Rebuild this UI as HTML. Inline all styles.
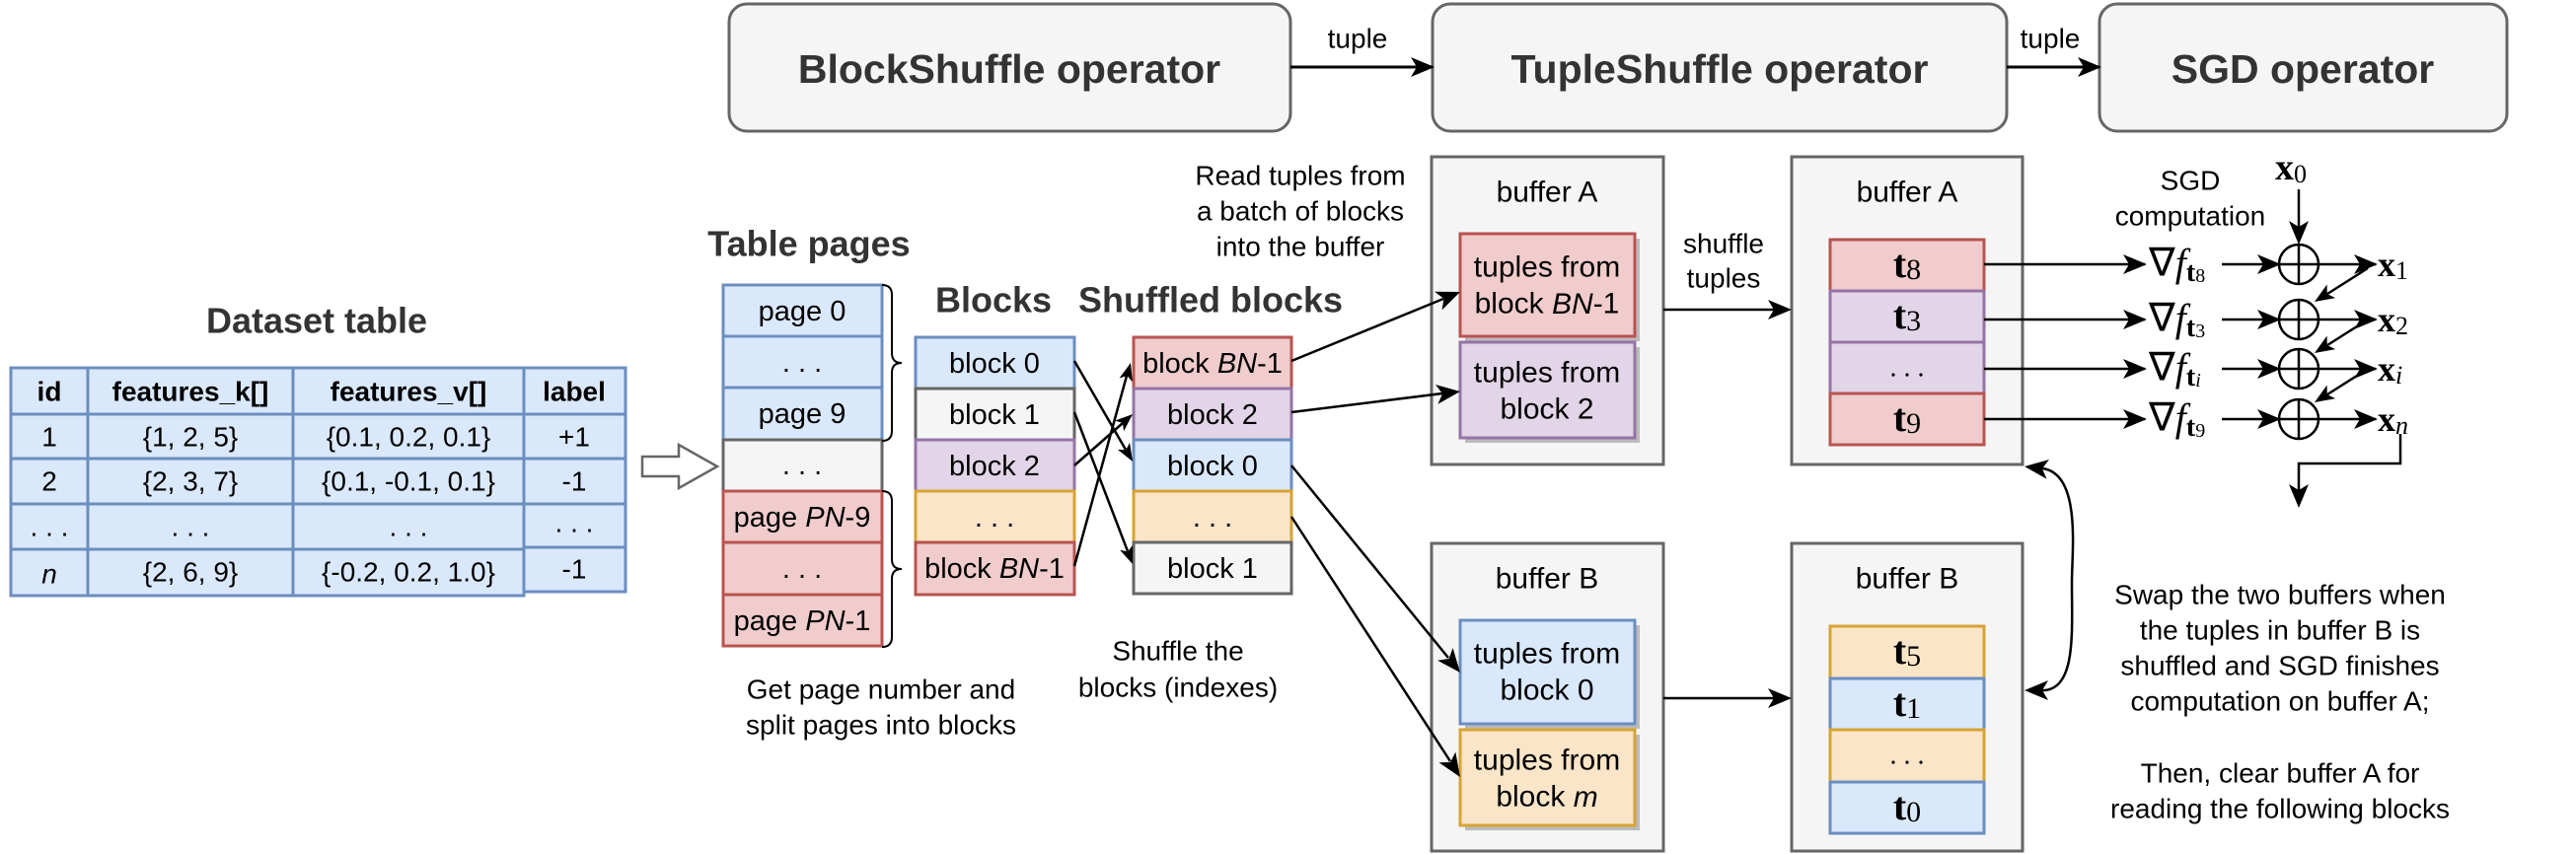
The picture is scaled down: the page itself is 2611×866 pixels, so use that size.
<!DOCTYPE html>
<html><head><meta charset="utf-8"><style>
html,body{margin:0;padding:0;background:#fff;}
svg{display:block;}
text{font-family:"Liberation Sans",Arial,sans-serif;fill:#000;}
.b{font-weight:bold;fill:#333;}
.m{font-family:"Liberation Serif",serif;}
</style></head><body>
<svg width="2611" height="866" viewBox="0 0 2611 866" xmlns="http://www.w3.org/2000/svg">
<defs>
<marker id="ab" markerWidth="24" markerHeight="20" refX="22" refY="10" orient="auto" markerUnits="userSpaceOnUse" viewBox="0 0 24 20">
<path d="M0,0 L24,10 L0,20 L6,10 Z" fill="#000"/></marker>
</defs>
<g font-size="30" text-anchor="middle" dominant-baseline="central">

<!-- top operators -->
<rect x="739" y="4" width="569" height="129" rx="18" fill="#f5f5f5" stroke="#666" stroke-width="3"/>
<text x="1023" y="70" class="b" font-size="41">BlockShuffle operator</text>
<rect x="1452" y="4" width="582" height="129" rx="18" fill="#f5f5f5" stroke="#666" stroke-width="3"/>
<text x="1743" y="70" class="b" font-size="41">TupleShuffle operator</text>
<rect x="2128" y="4" width="413" height="129" rx="18" fill="#f5f5f5" stroke="#666" stroke-width="3"/>
<text x="2334" y="70" class="b" font-size="41">SGD operator</text>
<line x1="1308" y1="68" x2="1452" y2="68" stroke="#000" stroke-width="3" marker-end="url(#ab)"/>
<text x="1376" y="39" font-size="28">tuple</text>
<line x1="2034" y1="68" x2="2128" y2="68" stroke="#000" stroke-width="3" marker-end="url(#ab)"/>
<text x="2078" y="39" font-size="28">tuple</text>

<!-- dataset table -->
<text x="321" y="325" class="b" font-size="36">Dataset table</text>
<g fill="#dae8fc" stroke="#6c8ebf" stroke-width="3">
<rect x="11" y="373" width="78" height="47"/><rect x="89" y="373" width="208" height="47"/><rect x="297" y="373" width="234" height="47"/><rect x="531" y="373" width="103" height="47"/>
<rect x="11" y="420" width="78" height="45"/><rect x="89" y="420" width="208" height="45"/><rect x="297" y="420" width="234" height="45"/><rect x="531" y="420" width="103" height="45"/>
<rect x="11" y="465" width="78" height="46"/><rect x="89" y="465" width="208" height="46"/><rect x="297" y="465" width="234" height="46"/><rect x="531" y="465" width="103" height="46"/>
<rect x="11" y="511" width="78" height="46"/><rect x="89" y="511" width="208" height="46"/><rect x="297" y="511" width="234" height="46"/><rect x="531" y="511" width="103" height="44"/>
<rect x="11" y="557" width="78" height="47"/><rect x="89" y="557" width="208" height="47"/><rect x="297" y="557" width="234" height="47"/><rect x="531" y="555" width="103" height="45"/>
</g>
<g font-size="28">
<text x="50" y="397" font-weight="bold">id</text><text x="193" y="397" font-weight="bold">features_k[]</text><text x="414" y="397" font-weight="bold">features_v[]</text><text x="582" y="397" font-weight="bold">label</text>
<text x="50" y="443">1</text><text x="193" y="443">{1, 2, 5}</text><text x="414" y="443">{0.1, 0.2, 0.1}</text><text x="582" y="443">+1</text>
<text x="50" y="488">2</text><text x="193" y="488">{2, 3, 7}</text><text x="414" y="488">{0.1, -0.1, 0.1}</text><text x="582" y="488">-1</text>
<text x="50" y="534">. . .</text><text x="193" y="534">. . .</text><text x="414" y="534">. . .</text><text x="582" y="530">. . .</text>
<text x="50" y="582" font-style="italic">n</text><text x="193" y="580">{2, 6, 9}</text><text x="414" y="580">{-0.2, 0.2, 1.0}</text><text x="582" y="577">-1</text>
</g>
<path d="M651,463 H688 V451 L727,473 L688,495 V483 H651 Z" fill="#fff" stroke="#666" stroke-width="2.5"/>

<!-- table pages -->
<text x="820" y="247" class="b" font-size="36">Table pages</text>
<g stroke-width="3">
<rect x="733" y="289" width="161" height="52" fill="#dae8fc" stroke="#6c8ebf"/>
<rect x="733" y="341" width="161" height="52" fill="#dae8fc" stroke="#6c8ebf"/>
<rect x="733" y="393" width="161" height="53" fill="#dae8fc" stroke="#6c8ebf"/>
<rect x="733" y="446" width="161" height="52" fill="#f5f5f5" stroke="#666"/>
<rect x="733" y="498" width="161" height="52" fill="#f0cccc" stroke="#b85450"/>
<rect x="733" y="550" width="161" height="53" fill="#f0cccc" stroke="#b85450"/>
<rect x="733" y="603" width="161" height="52" fill="#f0cccc" stroke="#b85450"/>
</g>
<g font-size="29">
<text x="813" y="316">page 0</text><text x="813" y="368">. . .</text><text x="813" y="420">page 9</text><text x="813" y="472">. . .</text>
<text x="813" y="525">page <tspan font-style="italic">PN</tspan>-9</text><text x="813" y="577">. . .</text><text x="813" y="630">page <tspan font-style="italic">PN</tspan>-1</text>
</g>
<path d="M894,289 q10,0 10,10 v59 q0,10 10,10 q-10,0 -10,10 v59 q0,10 -10,10" fill="none" stroke="#000" stroke-width="2"/>
<path d="M894,498 q10,0 10,10 v59 q0,10 10,10 q-10,0 -10,10 v59 q0,10 -10,10" fill="none" stroke="#000" stroke-width="2"/>

<!-- blocks -->
<text x="1007" y="304" class="b" font-size="36">Blocks</text>
<g stroke-width="3">
<rect x="928" y="342" width="161" height="52" fill="#dae8fc" stroke="#6c8ebf"/>
<rect x="928" y="394" width="161" height="52" fill="#f5f5f5" stroke="#666"/>
<rect x="928" y="446" width="161" height="52" fill="#e1d5e7" stroke="#9673a6"/>
<rect x="928" y="498" width="161" height="52" fill="#fae5c8" stroke="#d6a434"/>
<rect x="928" y="550" width="161" height="53" fill="#f0cccc" stroke="#b85450"/>
</g>
<g font-size="29">
<text x="1008" y="369">block 0</text><text x="1008" y="421">block 1</text><text x="1008" y="473">block 2</text><text x="1008" y="525">. . .</text><text x="1008" y="577">block <tspan font-style="italic">BN</tspan>-1</text>
</g>
<text x="1227" y="304" class="b" font-size="36">Shuffled blocks</text>
<g stroke-width="3">
<rect x="1149" y="342" width="160" height="52" fill="#f0cccc" stroke="#b85450"/>
<rect x="1149" y="394" width="160" height="52" fill="#e1d5e7" stroke="#9673a6"/>
<rect x="1149" y="446" width="160" height="52" fill="#dae8fc" stroke="#6c8ebf"/>
<rect x="1149" y="498" width="160" height="52" fill="#fae5c8" stroke="#d6a434"/>
<rect x="1149" y="550" width="160" height="52" fill="#f5f5f5" stroke="#666"/>
</g>
<g font-size="29">
<text x="1229" y="369">block <tspan font-style="italic">BN</tspan>-1</text><text x="1229" y="421">block 2</text><text x="1229" y="473">block 0</text><text x="1229" y="525">. . .</text><text x="1229" y="577">block 1</text>
</g>
<g font-size="28">
<text x="893" y="699">Get page number and</text><text x="893" y="735">split pages into blocks</text>
<text x="1194" y="660">Shuffle the</text><text x="1194" y="697">blocks (indexes)</text>
<text x="1318" y="178">Read tuples from</text><text x="1318" y="214">a batch of blocks</text><text x="1318" y="250">into the buffer</text>
</g>

<text x="1747" y="247" font-size="28">shuffle</text><text x="1747" y="282" font-size="28">tuples</text>

<!-- buffers left -->
<rect x="1451" y="159" width="235" height="312" fill="#f5f5f5" stroke="#666" stroke-width="3"/>
<text x="1568" y="195">buffer A</text>
<rect x="1485" y="242" width="177" height="104" fill="#bbb"/>
<rect x="1480" y="237" width="177" height="104" fill="#f0cccc" stroke="#b85450" stroke-width="3"/>
<rect x="1485" y="352" width="177" height="97" fill="#bbb"/>
<rect x="1480" y="347" width="177" height="97" fill="#e1d5e7" stroke="#9673a6" stroke-width="3"/>
<text x="1568" y="271">tuples from</text><text x="1568" y="308">block <tspan font-style="italic">BN</tspan>-1</text>
<text x="1568" y="378">tuples from</text><text x="1568" y="415">block 2</text>

<rect x="1451" y="551" width="235" height="312" fill="#f5f5f5" stroke="#666" stroke-width="3"/>
<text x="1568" y="587">buffer B</text>
<rect x="1485" y="634" width="177" height="105" fill="#bbb"/>
<rect x="1480" y="629" width="177" height="105" fill="#dae8fc" stroke="#6c8ebf" stroke-width="3"/>
<rect x="1485" y="745" width="177" height="97" fill="#bbb"/>
<rect x="1480" y="740" width="177" height="97" fill="#fae5c8" stroke="#d6a434" stroke-width="3"/>
<text x="1568" y="663">tuples from</text><text x="1568" y="700">block 0</text>
<text x="1568" y="771">tuples from</text><text x="1568" y="808">block <tspan font-style="italic">m</tspan></text>

<!-- buffers right -->
<rect x="1816" y="159" width="234" height="312" fill="#f5f5f5" stroke="#666" stroke-width="3"/>
<text x="1933" y="195">buffer A</text>
<rect x="1855" y="243" width="156" height="52" fill="#f0cccc" stroke="#b85450" stroke-width="3"/>
<rect x="1855" y="295" width="156" height="52" fill="#e1d5e7" stroke="#9673a6" stroke-width="3"/>
<rect x="1855" y="347" width="156" height="52" fill="#e1d5e7" stroke="#9673a6" stroke-width="3"/>
<rect x="1855" y="399" width="156" height="52" fill="#f0cccc" stroke="#b85450" stroke-width="3"/>
<g font-size="40">
<text x="1933" y="267" class="m"><tspan font-weight="bold">t</tspan><tspan font-size="30" dy="6">8</tspan></text>
<text x="1933" y="319" class="m"><tspan font-weight="bold">t</tspan><tspan font-size="30" dy="6">3</tspan></text>
<text x="1933" y="373" class="m" font-size="28">. . .</text>
<text x="1933" y="423" class="m"><tspan font-weight="bold">t</tspan><tspan font-size="30" dy="6">9</tspan></text>
</g>
<rect x="1816" y="551" width="234" height="312" fill="#f5f5f5" stroke="#666" stroke-width="3"/>
<text x="1933" y="587">buffer B</text>
<rect x="1855" y="635" width="156" height="53" fill="#fae5c8" stroke="#d6a434" stroke-width="3"/>
<rect x="1855" y="688" width="156" height="52" fill="#dae8fc" stroke="#6c8ebf" stroke-width="3"/>
<rect x="1855" y="740" width="156" height="53" fill="#fae5c8" stroke="#d6a434" stroke-width="3"/>
<rect x="1855" y="793" width="156" height="52" fill="#dae8fc" stroke="#6c8ebf" stroke-width="3"/>
<g font-size="40">
<text x="1933" y="659" class="m"><tspan font-weight="bold">t</tspan><tspan font-size="30" dy="6">5</tspan></text>
<text x="1933" y="712" class="m"><tspan font-weight="bold">t</tspan><tspan font-size="30" dy="6">1</tspan></text>
<text x="1933" y="766" class="m" font-size="28">. . .</text>
<text x="1933" y="817" class="m"><tspan font-weight="bold">t</tspan><tspan font-size="30" dy="6">0</tspan></text>
</g>

<!-- connectors (drawn on top) -->
<g stroke="#000" stroke-width="2.5">
<line x1="1089" y1="366" x2="1141" y2="456"/>
<line x1="1089" y1="418" x2="1143" y2="559"/>
<line x1="1089" y1="472" x2="1138" y2="429"/>
<line x1="1089" y1="574" x2="1142" y2="381"/>
<line x1="1309" y1="366" x2="1463" y2="303"/>
<line x1="1309" y1="418" x2="1462" y2="399"/>
<line x1="1309" y1="472" x2="1468" y2="667"/>
<line x1="1309" y1="524" x2="1470" y2="772"/>
<line x1="1686" y1="314" x2="1800" y2="314"/>
<line x1="1686" y1="708" x2="1800" y2="708"/>
</g>
<g fill="#000">
<polygon points="1148,468 1132.9,455.9 1141.2,456.3 1145.1,448.9"/>
<polygon points="1148,572 1135.1,557.7 1143.2,559.4 1148.1,552.7"/>
<polygon points="1148,420 1139.1,437.2 1137.9,428.9 1129.9,426.6"/>
<polygon points="1146,368 1147.9,387.3 1142.4,381.0 1134.5,383.5"/>
<polygon points="1480,296 1461.6,314.4 1463.4,302.8 1454.0,295.8"/>
<polygon points="1480,397 1457.4,409.8 1462.1,399.2 1455.0,390.0"/>
<polygon points="1480,682 1457.1,669.7 1468.6,668.0 1472.6,657.1"/>
<polygon points="1480,788 1458.5,773.3 1470.2,772.9 1475.3,762.5"/>
<polygon points="1816,314 1792,304 1798,314 1792,324"/>
<polygon points="1816,708 1792,698 1798,708 1792,718"/>
</g>

<!-- swap arrow -->
<path d="M2070,475 C2110,480 2100,560 2100,590 C2100,640 2105,700 2070,700" fill="none" stroke="#000" stroke-width="2.5"/>
<polygon points="2052,473 2077,466 2069.9,475.2 2074.6,485.8" fill="#000"/>
<polygon points="2052,700 2076,690 2070,700 2076,710" fill="#000"/>

<!-- SGD computation -->
<text x="2220" y="183" font-size="28">SGD</text><text x="2220" y="219" font-size="28">computation</text>
<text x="2322" y="170" class="m" font-size="38"><tspan font-weight="bold">x</tspan><tspan font-size="26" dy="6">0</tspan></text>
<g stroke="#000" stroke-width="2.5" fill="none">
<line x1="2330" y1="192" x2="2330" y2="232"/>
<line x1="2011" y1="268" x2="2174" y2="268" marker-end="url(#ab)"/>
<line x1="2011" y1="324" x2="2174" y2="324" marker-end="url(#ab)"/>
<line x1="2011" y1="374" x2="2174" y2="374" marker-end="url(#ab)"/>
<line x1="2011" y1="425" x2="2174" y2="425" marker-end="url(#ab)"/>
<line x1="2252" y1="268" x2="2310" y2="268" marker-end="url(#ab)"/>
<line x1="2252" y1="324" x2="2310" y2="324" marker-end="url(#ab)"/>
<line x1="2252" y1="374" x2="2310" y2="374" marker-end="url(#ab)"/>
<line x1="2252" y1="425" x2="2310" y2="425" marker-end="url(#ab)"/>
<line x1="2310" y1="268" x2="2408" y2="268" marker-end="url(#ab)"/>
<line x1="2310" y1="324" x2="2408" y2="324" marker-end="url(#ab)"/>
<line x1="2310" y1="374" x2="2408" y2="374" marker-end="url(#ab)"/>
<line x1="2310" y1="425" x2="2408" y2="425" marker-end="url(#ab)"/>
<line x1="2400" y1="272" x2="2359" y2="298"/>
<line x1="2400" y1="324" x2="2359" y2="350"/>
<line x1="2400" y1="374" x2="2359" y2="400"/>
<circle cx="2330" cy="268" r="20"/><line x1="2330" y1="248" x2="2330" y2="288"/>
<circle cx="2330" cy="324" r="20"/><line x1="2330" y1="304" x2="2330" y2="344"/>
<circle cx="2330" cy="374" r="20"/><line x1="2330" y1="354" x2="2330" y2="394"/>
<circle cx="2330" cy="425" r="20"/><line x1="2330" y1="405" x2="2330" y2="445"/>
<path d="M2433,440 V470 H2330 V500"/>
</g>
<g fill="#000">
<polygon points="2330,248 2320,224 2330,230 2340,224"/>
<polygon points="2330,515 2320,491 2330,497 2340,491"/>
<polygon points="2346,306 2358.6,288.5 2358.7,298.0 2367.2,302.1"/>
<polygon points="2346,358 2358.6,340.5 2358.7,350.0 2367.2,354.1"/>
<polygon points="2346,408 2358.6,390.5 2358.7,400.0 2367.2,404.1"/>
</g>
<g font-size="40" text-anchor="start">
<text x="2178" y="266" class="m">∇<tspan font-style="italic">f</tspan><tspan font-size="28" dy="10" font-weight="bold">t</tspan><tspan font-size="20" dy="4">8</tspan></text>
<text x="2178" y="322" class="m">∇<tspan font-style="italic">f</tspan><tspan font-size="28" dy="10" font-weight="bold">t</tspan><tspan font-size="20" dy="4">3</tspan></text>
<text x="2178" y="372" class="m">∇<tspan font-style="italic">f</tspan><tspan font-size="28" dy="10" font-weight="bold">t</tspan><tspan font-size="20" dy="4" font-style="italic">i</tspan></text>
<text x="2178" y="423" class="m">∇<tspan font-style="italic">f</tspan><tspan font-size="28" dy="10" font-weight="bold">t</tspan><tspan font-size="20" dy="4">9</tspan></text>
<text x="2410" y="268" class="m" font-size="36"><tspan font-weight="bold">x</tspan><tspan font-size="26" dy="6">1</tspan></text>
<text x="2410" y="324" class="m" font-size="36"><tspan font-weight="bold">x</tspan><tspan font-size="26" dy="6">2</tspan></text>
<text x="2410" y="374" class="m" font-size="36"><tspan font-weight="bold">x</tspan><tspan font-size="26" dy="6" font-style="italic">i</tspan></text>
<text x="2410" y="425" class="m" font-size="36"><tspan font-weight="bold">x</tspan><tspan font-size="26" dy="6" font-style="italic">n</tspan></text>
</g>

<g font-size="28">
<text x="2311" y="603">Swap the two buffers when</text>
<text x="2311" y="639">the tuples in buffer B is</text>
<text x="2311" y="675">shuffled and SGD finishes</text>
<text x="2311" y="711">computation on buffer A;</text>
<text x="2311" y="784">Then, clear buffer A for</text>
<text x="2311" y="820">reading the following blocks</text>
</g>
</g>
</svg>
</body></html>
